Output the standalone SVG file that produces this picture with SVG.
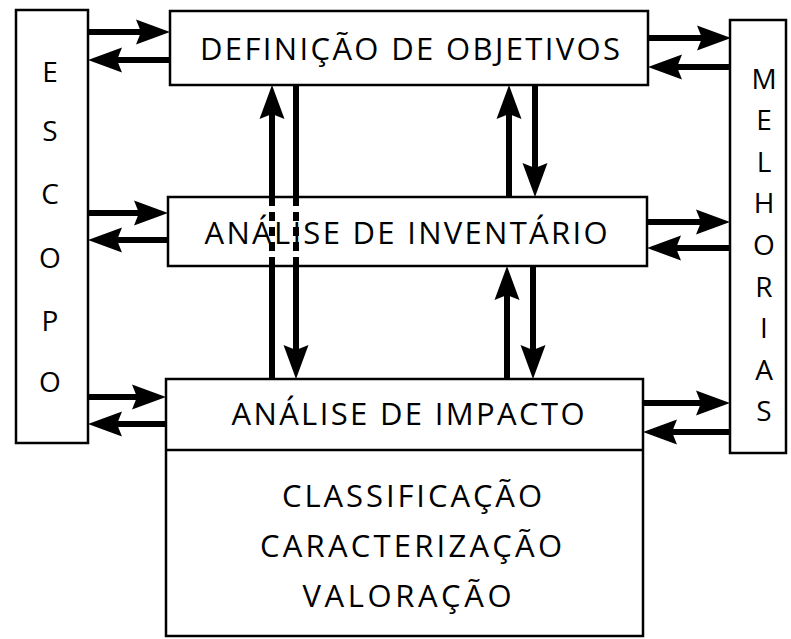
<svg xmlns="http://www.w3.org/2000/svg" width="791" height="639" viewBox="0 0 791 639">
<style>
.box{fill:#fff;stroke:#000;stroke-width:2.5}
.lbl{font-family:"Open Sans","Liberation Sans",sans-serif;font-weight:400;font-size:31px;fill:#000;text-anchor:middle}
.ltr{font-family:"Open Sans","Liberation Sans",sans-serif;font-weight:400;font-size:28px;fill:#000;text-anchor:middle}
.arr{stroke:#000;stroke-width:6;fill:none}
.dash{stroke:#000;stroke-width:6;fill:none;stroke-dasharray:9 6}
</style>
<defs>
<marker id="ah" markerUnits="userSpaceOnUse" viewBox="-16 -15 40 30" markerWidth="40" markerHeight="30" refX="0" refY="0" orient="auto">
<path d="M21,0 L-13,-12.5 L-8,0 L-13,12.5 Z" fill="#000"/>
</marker>
</defs>
<rect width="791" height="639" fill="#fff"/>
<g id="escopo">
<rect class="box" x="16" y="10" width="72" height="433"/>
<text class="ltr" x="50" y="82">E</text>
<text class="ltr" x="50" y="141">S</text>
<text class="ltr" x="50" y="204">C</text>
<text class="ltr" x="50" y="268">O</text>
<text class="ltr" x="50" y="331">P</text>
<text class="ltr" x="50" y="392">O</text>
</g>
<g id="melhorias">
<rect class="box" x="730" y="20" width="56" height="433"/>
<text class="ltr" x="764" y="89">M</text>
<text class="ltr" x="764" y="130">E</text>
<text class="ltr" x="764" y="172">L</text>
<text class="ltr" x="764" y="213">H</text>
<text class="ltr" x="764" y="255">O</text>
<text class="ltr" x="764" y="297">R</text>
<text class="ltr" x="764" y="338">I</text>
<text class="ltr" x="764" y="380">A</text>
<text class="ltr" x="764" y="421">S</text>
</g>
<g id="definicao">
<rect class="box" x="170" y="11" width="478" height="74"/>
<text class="lbl" x="410" y="60" textLength="420" lengthAdjust="spacing">DEFINIÇÃO DE OBJETIVOS</text>
</g>
<g id="inventario">
<rect class="box" x="168" y="197" width="479" height="69"/>
<text class="lbl" x="406" y="244" textLength="403" lengthAdjust="spacing">ANÁLISE DE INVENTÁRIO</text>
</g>
<g id="impacto">
<rect class="box" x="166" y="379" width="477" height="257"/>
<line x1="166" y1="450" x2="643" y2="450" stroke="#000" stroke-width="2.5"/>
<text class="lbl" x="408" y="425" textLength="353" lengthAdjust="spacing">ANÁLISE DE IMPACTO</text>
<text class="lbl" x="412" y="507" textLength="260" lengthAdjust="spacing">CLASSIFICAÇÃO</text>
<text class="lbl" x="411" y="557" textLength="302" lengthAdjust="spacing">CARACTERIZAÇÃO</text>
<text class="lbl" x="407" y="607" textLength="209" lengthAdjust="spacing">VALORAÇÃO</text>
</g>
<g id="connectors">
<line class="arr" x1="88" y1="32" x2="149" y2="32" marker-end="url(#ah)"/>
<line class="arr" x1="170" y1="60" x2="109" y2="60" marker-end="url(#ah)"/>
<line class="arr" x1="88" y1="213" x2="147" y2="213" marker-end="url(#ah)"/>
<line class="arr" x1="168" y1="240" x2="109" y2="240" marker-end="url(#ah)"/>
<line class="arr" x1="88" y1="397" x2="145" y2="397" marker-end="url(#ah)"/>
<line class="arr" x1="166" y1="424" x2="109" y2="424" marker-end="url(#ah)"/>
<line class="arr" x1="648" y1="38" x2="710" y2="38" marker-end="url(#ah)"/>
<line class="arr" x1="730" y1="67" x2="669" y2="67" marker-end="url(#ah)"/>
<line class="arr" x1="647" y1="222" x2="709" y2="222" marker-end="url(#ah)"/>
<line class="arr" x1="730" y1="248" x2="668" y2="248" marker-end="url(#ah)"/>
<line class="arr" x1="643" y1="403" x2="709" y2="403" marker-end="url(#ah)"/>
<line class="arr" x1="730" y1="432" x2="664" y2="432" marker-end="url(#ah)"/>
<line class="arr" x1="272" y1="379" x2="272" y2="266"/>
<line class="dash" x1="272" y1="266" x2="272" y2="197"/>
<line class="arr" x1="272" y1="197" x2="272" y2="106" marker-end="url(#ah)"/>
<line class="arr" x1="296" y1="85" x2="296" y2="197"/>
<line class="dash" x1="296" y1="197" x2="296" y2="266"/>
<line class="arr" x1="296" y1="266" x2="296" y2="358" marker-end="url(#ah)"/>
<line class="arr" x1="509" y1="197" x2="509" y2="106" marker-end="url(#ah)"/>
<line class="arr" x1="535" y1="85" x2="535" y2="176" marker-end="url(#ah)"/>
<line class="arr" x1="507" y1="379" x2="507" y2="287" marker-end="url(#ah)"/>
<line class="arr" x1="533" y1="266" x2="533" y2="358" marker-end="url(#ah)"/>
</g>
</svg>
